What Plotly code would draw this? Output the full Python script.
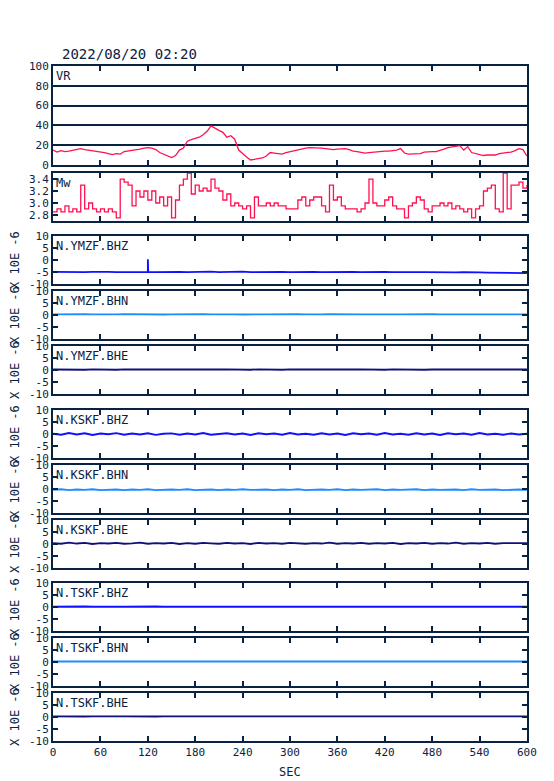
import plotly.graph_objects as go

# ---------------- data ----------------
TITLE = "2022/08/20 02:20"
X_TICKS = [0, 60, 120, 180, 240, 300, 360, 420, 480, 540, 600]

VR_T = list(range(0, 601, 5))
VR = [15, 13, 14.5, 13.5, 14, 15, 16, 16.5, 15.5, 15,
      14, 13.5, 13, 12.5, 11.5, 10.5, 11.5, 11, 13.5, 14,
      15, 15.5, 16, 17, 17.5, 17, 15.5, 12.5, 11, 9.5,
      7.5, 9.5, 15, 17, 24, 25.5, 27, 28, 30.5, 34,
      39.5, 37, 35, 33, 28, 29.5, 26, 15, 11, 8,
      5, 5.5, 6, 7, 9, 12.5, 12, 11.5, 11, 12.5,
      13.5, 14, 15.5, 16.5, 17, 17.5, 17.5, 17, 17, 16.5,
      16, 15.5, 16, 16.5, 16.5, 15.5, 14, 13.5, 12.5, 12,
      12.5, 13, 13.5, 13.5, 14, 14, 14.5, 15, 16.5, 12,
      11, 11, 11, 11.5, 13, 13.5, 13.5, 13.5, 14.5, 16,
      17.5, 18, 18.5, 19.5, 15, 18.5, 12.5, 11.5, 10, 9.5,
      10, 10, 10, 11.5, 12, 12.5, 13, 14.5, 16.5, 15.5,
      9]

MW_T = list(range(0, 601, 5))
MW = [2.85, 2.9, 2.85, 2.95, 2.85, 2.9, 2.85, 3.3, 2.9, 3.0,
      2.9, 2.85, 2.9, 2.85, 2.9, 2.85, 2.75, 3.4, 3.35, 3.3,
      2.95, 3.2, 3.1, 3.2, 3.05, 3.2, 3.0, 3.1, 2.95, 3.1,
      2.75, 3.05, 3.3, 3.4, 3.5, 3.15, 3.3, 3.2, 3.25, 3.2,
      3.4, 3.25, 3.2, 3.05, 3.15, 2.95, 3.0, 2.95, 2.9, 2.95,
      2.75, 3.1, 2.95, 2.95, 3.0, 2.95, 3.0, 2.95, 2.95, 2.9,
      2.9, 2.9, 3.05, 3.1, 2.95, 3.05, 3.1, 3.1, 2.95, 2.85,
      3.3, 3.05, 3.1, 2.95, 2.9, 2.9, 2.9, 2.85, 2.9, 3.0,
      3.4, 3.0, 2.95, 2.95, 3.05, 3.1, 2.95, 2.9, 2.9, 2.75,
      2.95, 3.0, 3.1, 3.05, 2.9, 2.85, 2.95, 2.95, 3.0, 2.95,
      3.0, 2.9, 2.95, 2.9, 2.85, 2.9, 2.75, 2.9, 2.95, 3.2,
      3.25, 3.3, 2.9, 2.85, 3.5, 2.9, 3.3, 3.3, 3.35, 3.25,
      3.3]

SEIS_T = list(range(0, 601, 10))
SEIS_NAMES = ["N.YMZF.BHZ", "N.YMZF.BHN", "N.YMZF.BHE",
              "N.KSKF.BHZ", "N.KSKF.BHN", "N.KSKF.BHE",
              "N.TSKF.BHZ", "N.TSKF.BHN", "N.TSKF.BHE"]

YMZF_BHZ = [-5.0, -5.1, -4.9, -5.0, -5.1, -5.0, -4.9, -5.0, -5.1, -5.0,
            -5.0, -4.9, -5.0, -5.1, -5.0, -4.9, -5.0, -5.1, -5.0, -5.0,
            -4.9, -5.1, -5.0, -5.0, -4.9, -5.1, -5.0, -5.1, -5.0, -5.0,
            -5.1, -5.0, -4.9, -5.0, -5.1, -5.0, -5.0, -5.1, -5.0, -5.1,
            -5.0, -5.1, -5.0, -5.1, -5.0, -5.2, -5.1, -5.1, -5.2, -5.1,
            -5.2, -5.2, -5.1, -5.3, -5.2, -5.3, -5.3, -5.4, -5.3, -5.4,
            -5.5]
YMZF_BHZ_SPIKE_T = [119.5, 120, 120.5]
YMZF_BHZ_SPIKE_V = [-5.0, 0.3, -5.0]
YMZF_BHN = [0.3, 0.4, 0.3, 0.3, 0.4, 0.3, 0.2, 0.4, 0.3, 0.4,
            0.3, 0.3, 0.4, 0.3, 0.2, 0.3, 0.4, 0.3, 0.3, 0.4,
            0.3, 0.4, 0.3, 0.3, 0.2, 0.4, 0.3, 0.3, 0.4, 0.3,
            0.3, 0.4, 0.3, 0.2, 0.3, 0.4, 0.3, 0.3, 0.4, 0.3,
            0.3, 0.2, 0.4, 0.3, 0.3, 0.4, 0.3, 0.3, 0.4, 0.3,
            0.3, 0.2, 0.3, 0.4, 0.3, 0.3, 0.4, 0.3, 0.3, 0.4,
            0.3]
YMZF_BHE = [0.2, 0.1, 0.3, 0.2, 0.1, 0.3, 0.2, 0.2, 0.1, 0.3,
            0.2, 0.3, 0.1, 0.2, 0.2, 0.3, 0.1, 0.2, 0.3, 0.2,
            0.1, 0.2, 0.3, 0.2, 0.2, 0.1, 0.3, 0.2, 0.2, 0.1,
            0.3, 0.2, 0.2, 0.1, 0.2, 0.3, 0.2, 0.1, 0.2, 0.3,
            0.2, 0.2, 0.1, 0.3, 0.2, 0.2, 0.3, 0.1, 0.2, 0.2,
            0.3, 0.2, 0.1, 0.2, 0.3, 0.2, 0.2, 0.1, 0.3, 0.2,
            0.2]
KSKF_BHZ = [0.1, -0.3, 0.4, -0.2, 0.3, -0.4, 0.2, -0.1, 0.4, -0.3,
            0.2, -0.2, 0.3, -0.4, 0.1, 0.3, -0.3, 0.2, -0.2, 0.4,
            -0.3, 0.1, 0.3, -0.2, 0.2, -0.4, 0.3, -0.1, 0.2, -0.3,
            0.4, -0.2, 0.1, -0.3, 0.3, -0.2, 0.2, -0.4, 0.3, -0.1,
            0.2, -0.3, 0.4, -0.2, 0.1, -0.3, 0.3, -0.2, 0.2, -0.4,
            0.3, -0.1, 0.2, -0.3, 0.4, -0.2, 0.1, -0.3, 0.2, -0.2,
            0.1]
KSKF_BHN = [-0.4, -0.1, -0.5, -0.2, -0.4, -0.1, -0.5, -0.3, -0.2, -0.5,
            -0.2, -0.4, -0.1, -0.5, -0.3, -0.2, -0.4, -0.1, -0.5, -0.3,
            -0.2, -0.5, -0.2, -0.4, -0.1, -0.4, -0.3, -0.2, -0.5, -0.2,
            -0.4, -0.1, -0.5, -0.3, -0.2, -0.4, -0.1, -0.5, -0.2, -0.4,
            -0.3, -0.1, -0.5, -0.2, -0.4, -0.3, -0.1, -0.5, -0.2, -0.4,
            -0.3, -0.2, -0.5, -0.1, -0.4, -0.3, -0.2, -0.5, -0.3, -0.2,
            -0.4]
KSKF_BHE = [0.4, 0.1, 0.6, 0.2, 0.5, 0.0, 0.4, 0.2, 0.5, 0.1,
            0.3, 0.6, 0.1, 0.4, 0.2, 0.5, 0.0, 0.4, 0.1, 0.5,
            0.3, 0.1, 0.5, 0.2, 0.4, 0.0, 0.5, 0.2, 0.4, 0.1,
            0.5, 0.3, 0.1, 0.4, 0.2, 0.6, 0.1, 0.4, 0.2, 0.5,
            0.1, 0.4, 0.2, 0.5, 0.0, 0.4, 0.2, 0.5, 0.1, 0.4,
            0.2, 0.6, 0.1, 0.4, 0.2, 0.5, 0.1, 0.4, 0.3, 0.2,
            0.4]
TSKF_BHZ = [0.1, 0.2, 0.0, 0.1, 0.2, 0.1, 0.0, 0.2, 0.1, 0.1,
            0.2, 0.0, 0.1, 0.2, 0.1, 0.1, 0.0, 0.2, 0.1, 0.2,
            0.1, 0.0, 0.1, 0.2, 0.1, 0.1, 0.2, 0.0, 0.1, 0.1,
            0.2, 0.1, 0.0, 0.1, 0.2, 0.1, 0.1, 0.0, 0.2, 0.1,
            0.1, 0.2, 0.0, 0.1, 0.1, 0.2, 0.1, 0.0, 0.1, 0.2,
            0.1, 0.1, 0.0, 0.2, 0.1, 0.1, 0.2, 0.0, 0.1, 0.2,
            0.1]
TSKF_BHN = [0.2, 0.3, 0.1, 0.2, 0.3, 0.2, 0.1, 0.3, 0.2, 0.2,
            0.3, 0.1, 0.2, 0.3, 0.2, 0.2, 0.1, 0.3, 0.2, 0.3,
            0.2, 0.1, 0.2, 0.3, 0.2, 0.2, 0.3, 0.1, 0.2, 0.2,
            0.3, 0.2, 0.1, 0.2, 0.3, 0.2, 0.2, 0.1, 0.3, 0.2,
            0.2, 0.3, 0.1, 0.2, 0.2, 0.3, 0.2, 0.1, 0.2, 0.3,
            0.2, 0.2, 0.1, 0.3, 0.2, 0.2, 0.3, 0.1, 0.2, 0.3,
            0.2]
TSKF_BHE = [0.3, 0.2, 0.4, 0.3, 0.2, 0.3, 0.4, 0.2, 0.3, 0.3,
            0.2, 0.4, 0.3, 0.2, 0.3, 0.3, 0.4, 0.2, 0.3, 0.2,
            0.3, 0.4, 0.3, 0.2, 0.3, 0.3, 0.2, 0.4, 0.3, 0.3,
            0.2, 0.3, 0.4, 0.3, 0.2, 0.3, 0.3, 0.4, 0.2, 0.3,
            0.3, 0.2, 0.4, 0.3, 0.3, 0.2, 0.3, 0.4, 0.3, 0.2,
            0.3, 0.3, 0.4, 0.2, 0.3, 0.3, 0.2, 0.4, 0.3, 0.2,
            0.3]
SEIS_DATA = [YMZF_BHZ, YMZF_BHN, YMZF_BHE, KSKF_BHZ, KSKF_BHN, KSKF_BHE,
             TSKF_BHZ, TSKF_BHN, TSKF_BHE]
SEIS_Y_TICKS = [-10, -5, 0, 5, 10]
SEIS_Y_LABELS = ["-10", "-5", "0", "5", "10"]
SEIS_UNIT = "X 10E -6"

assert len(VR) == len(VR_T)
assert len(MW) == len(MW_T)
for s in SEIS_DATA:
    assert len(s) == len(SEIS_T)

# ---------------- style ----------------
W, H = 554, 781
NAVY = "#0a2242"
RED = "#ff1050"
COMP_COLORS = {"BHZ": "#1010ff", "BHN": "#1e8cff", "BHE": "#10107a"}
FONT = "DejaVu Sans Mono"
FRAME_W = 2.2
INSET = 1.1
X_LEFT, X_RIGHT = 52 + INSET, 528 - INSET
PANELS = [(65, 166), (172, 222),
          (235, 285), (290, 340), (345, 395),
          (409, 459), (464, 514), (519, 569),
          (582, 632), (637, 687), (692, 742)]


def fx(px):
    return px / W


def fy(py):
    return 1 - py / H


fig = go.Figure()
layout = dict(width=W, height=H, autosize=False,
              margin=dict(l=0, r=0, t=0, b=0, autoexpand=False),
              paper_bgcolor="white", plot_bgcolor="white",
              showlegend=False,
              font=dict(family=FONT, size=11, color=NAVY))
annotations = []

n = len(PANELS)
for i, (top, bot) in enumerate(PANELS):
    k = "" if i == 0 else str(i + 1)
    xa = dict(domain=[fx(X_LEFT), fx(X_RIGHT)], range=[0, 600],
              anchor="y" + k, tickvals=X_TICKS, ticks="inside", ticklen=5,
              tickwidth=1.5, tickcolor=NAVY, showline=True,
              linewidth=FRAME_W, linecolor=NAVY, mirror="ticks",
              showgrid=False, zeroline=False,
              showticklabels=(i == n - 1), automargin=False,
              tickfont=dict(family=FONT, size=11, color=NAVY))
    ya = dict(domain=[fy(bot - INSET), fy(top + INSET)], anchor="x" + k,
              ticks="inside", ticklen=5, tickwidth=1.5, tickcolor=NAVY,
              showline=True, linewidth=FRAME_W, linecolor=NAVY,
              mirror="ticks", zeroline=False, showgrid=False,
              automargin=False,
              tickfont=dict(family=FONT, size=11, color=NAVY))
    if i == 0:
        ya.update(range=[0, 100], tickvals=[0, 20, 40, 60, 80, 100],
                  showgrid=True, gridcolor=NAVY, gridwidth=1.5)
        fig.add_trace(go.Scatter(x=VR_T, y=VR, mode="lines",
                                 line=dict(color=RED, width=1.3),
                                 xaxis="x", yaxis="y"))
        label = "VR"
    elif i == 1:
        ya.update(range=[2.7, 3.5], tickvals=[2.8, 3.0, 3.2, 3.4],
                  tickformat=".1f")
        fig.add_trace(go.Scatter(x=MW_T, y=MW, mode="lines",
                                 line=dict(color=RED, width=1.3, shape="hv"),
                                 xaxis="x2", yaxis="y2"))
        label = "Mw"
    else:
        j = i - 2
        name = SEIS_NAMES[j]
        ya.update(range=[-10, 10], tickvals=SEIS_Y_TICKS,
                  ticktext=SEIS_Y_LABELS)
        xs = list(SEIS_T)
        ys = list(SEIS_DATA[j])
        if j == 0:
            pts = sorted(list(zip(xs, ys)) +
                         list(zip(YMZF_BHZ_SPIKE_T, YMZF_BHZ_SPIKE_V)))
            xs = [p[0] for p in pts]
            ys = [p[1] for p in pts]
        fig.add_trace(go.Scatter(x=xs, y=ys, mode="lines",
                                 line=dict(color=COMP_COLORS[name[-3:]],
                                           width=1.8),
                                 xaxis="x" + k, yaxis="y" + k))
        label = name
        annotations.append(dict(text=SEIS_UNIT, xref="paper", yref="paper",
                                x=fx(15), y=fy((top + bot) / 2),
                                xanchor="center", yanchor="middle",
                                textangle=-90, showarrow=False,
                                font=dict(family=FONT, size=12, color=NAVY)))
    layout["xaxis" + k] = xa
    layout["yaxis" + k] = ya
    annotations.append(dict(text=label, xref="paper", yref="paper",
                            x=fx(X_LEFT + 1), y=fy(top + 2),
                            xanchor="left", yanchor="top", showarrow=False,
                            font=dict(family=FONT, size=12, color=NAVY)))

annotations.append(dict(text=TITLE, xref="paper", yref="paper",
                        x=fx(60), y=fy(64), xanchor="left", yanchor="bottom",
                        showarrow=False,
                        font=dict(family=FONT, size=14, color=NAVY)))
annotations.append(dict(text="SEC", xref="paper", yref="paper",
                        x=fx(290), y=fy(772), xanchor="center",
                        yanchor="middle", showarrow=False,
                        font=dict(family=FONT, size=12, color=NAVY)))
layout["annotations"] = annotations
fig.update_layout(**layout)
fig.write_html("out.html", config={"displayModeBar": False},
               post_script="document.body.style.margin='0';"
                           "document.body.style.overflow='hidden';")
